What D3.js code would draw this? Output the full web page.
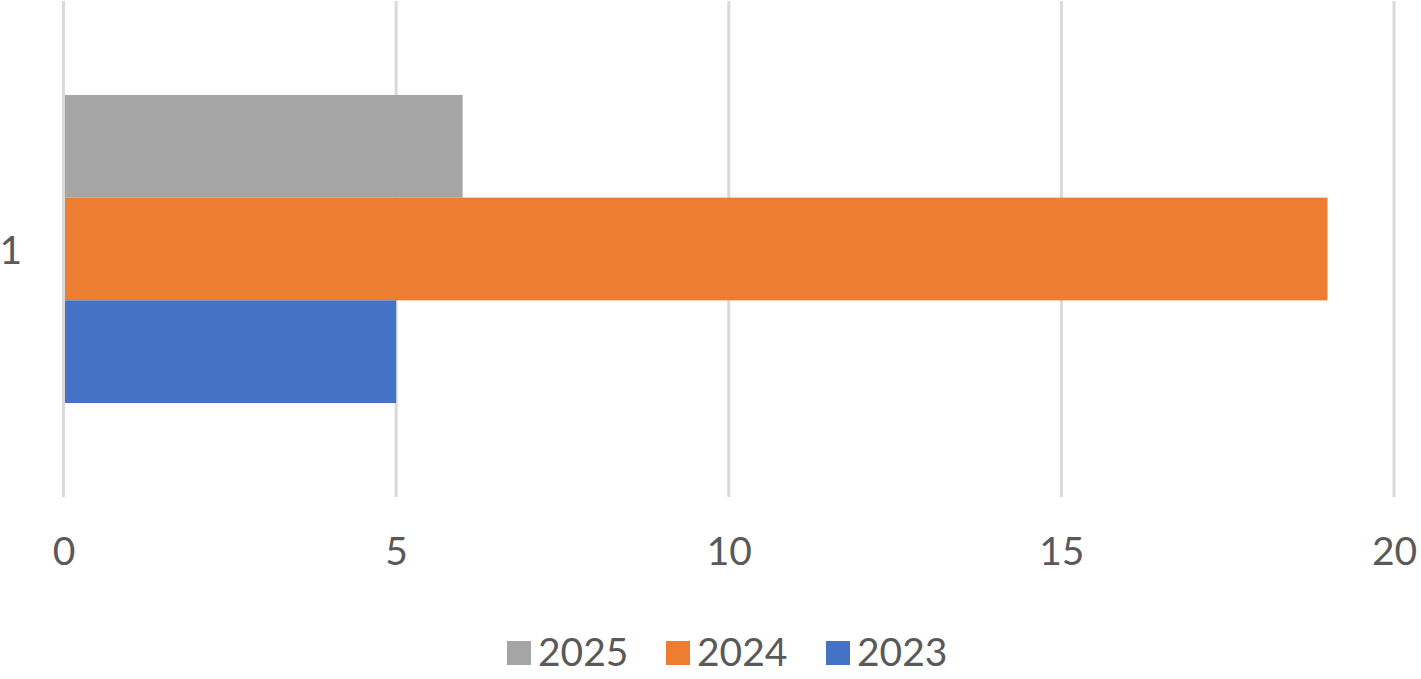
<!DOCTYPE html>
<html><head><meta charset="utf-8">
<script src="https://cdn.jsdelivr.net/npm/d3@7"></script>
<style>body{margin:0;background:#fff;} svg{display:block;font-family:Lato, "Open Sans", sans-serif;}</style>
</head><body>
<svg id="c" width="1421" height="679"></svg>
<script>
const categories = ["1"];
const seriesNames = ["2025", "2024", "2023"];
const seriesValues = [6, 19, 5];
const seriesColors = ["#A5A5A5", "#ED7D31", "#4472C4"];
const xTicks = [0, 5, 10, 15, 20];

const svg = d3.select("#c");
const x = d3.scaleLinear().domain([0, 20]).range([63.5, 1394]);
const plotTop = 1, plotBottom = 497;
const y = d3.scaleBand().domain(categories).range([plotTop, plotBottom]).paddingInner(0).paddingOuter(0.305);
const ySub = d3.scaleBand().domain(seriesNames).range([0, y.bandwidth()]);

// gridlines
svg.append("g").selectAll("line").data(xTicks).join("line")
  .attr("x1", d => x(d)).attr("x2", d => x(d))
  .attr("y1", plotTop).attr("y2", plotBottom)
  .attr("stroke", "#D9D9D9").attr("stroke-width", 3);

// bars
const g = svg.append("g");
categories.forEach(cat => {
  g.selectAll("rect.b" + cat).data(seriesNames.map((s, i) => ({s, v: seriesValues[i], c: seriesColors[i]})))
    .join("rect")
    .attr("x", x(0) + 1.5)
    .attr("y", d => y(cat) + ySub(d.s))
    .attr("width", d => x(d.v) - x(0) - 1.5)
    .attr("height", ySub.bandwidth())
    .attr("fill", d => d.c);
  svg.append("text").attr("x", 22).attr("y", y(cat) + y.bandwidth() / 2)
    .attr("text-anchor", "end").attr("dominant-baseline", "central")
    .attr("font-size", 39).attr("fill", "#595959").text(cat);
});

// x axis tick labels
const xAxis = d3.axisBottom(x).tickValues(xTicks).tickSize(0).tickPadding(0);
const ax = svg.append("g").attr("transform", `translate(0, 537)`).call(xAxis);
ax.select(".domain").remove();
ax.selectAll("text").attr("font-size", 39).attr("fill", "#595959")
  .attr("font-family", "Lato, 'Open Sans', sans-serif").attr("dy", "0.71em");

// legend
const legendX = [507, 666, 826];
const lg = svg.append("g").selectAll("g").data(seriesNames).join("g")
  .attr("transform", (d, i) => `translate(${legendX[i]}, 641)`);
lg.append("rect").attr("width", 24).attr("height", 24).attr("fill", (d, i) => seriesColors[i]);
lg.append("text").attr("x", 31).attr("y", 24.5).attr("font-size", 39).attr("fill", "#595959").text(d => d);
</script>
</body></html>
